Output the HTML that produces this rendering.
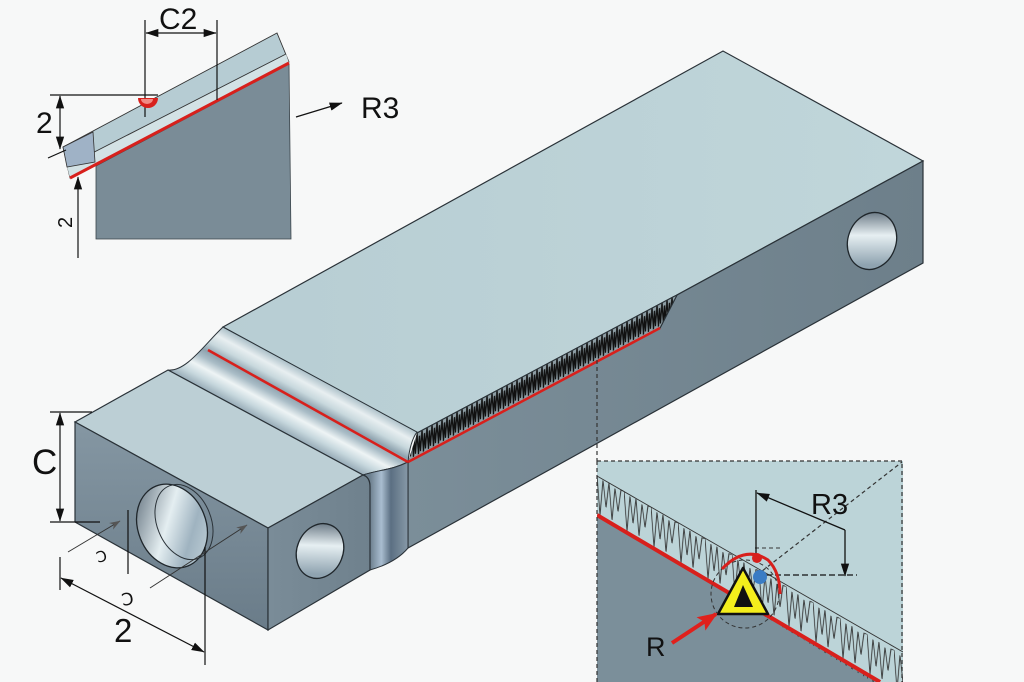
<!DOCTYPE html>
<html><head><meta charset="utf-8">
<style>
html,body{margin:0;padding:0;background:#f7f8f8;}
svg{display:block}
text{font-family:"Liberation Sans",sans-serif;fill:#111;}
</style></head><body>
<svg width="1024" height="682" viewBox="0 0 1024 682" xmlns="http://www.w3.org/2000/svg">
<defs>
 <marker id="ah" viewBox="0 0 10 10" refX="9.5" refY="5" markerWidth="13" markerHeight="13" markerUnits="userSpaceOnUse" orient="auto-start-reverse"><path d="M0,1.8 L10,5 L0,8.2 Z" fill="#111"/></marker>
 <marker id="ahg" viewBox="0 0 10 10" refX="9.5" refY="5" markerWidth="11" markerHeight="11" markerUnits="userSpaceOnUse" orient="auto"><path d="M0,1.5 L10,5 L0,8.5 L3,5 Z" fill="#555"/></marker>
 <marker id="ahr" viewBox="0 0 10 10" refX="9" refY="5" markerWidth="20" markerHeight="20" markerUnits="userSpaceOnUse" orient="auto"><path d="M0,1 L10,5 L0,9 L2,5 Z" fill="#e0201c"/></marker>
 <linearGradient id="topG" x1="200" y1="0" x2="920" y2="0" gradientUnits="userSpaceOnUse">
  <stop offset="0" stop-color="#b7cdd3"/><stop offset="1" stop-color="#c0d6da"/>
 </linearGradient>
 <linearGradient id="frontG" x1="408" y1="0" x2="923" y2="0" gradientUnits="userSpaceOnUse">
  <stop offset="0" stop-color="#7b8e99"/><stop offset="1" stop-color="#6d7f8a"/>
 </linearGradient>
 <linearGradient id="leftG" x1="0" y1="420" x2="0" y2="630" gradientUnits="userSpaceOnUse">
  <stop offset="0" stop-color="#8597a3"/><stop offset="1" stop-color="#6a7c89"/>
 </linearGradient>
 <linearGradient id="lbFrontG" x1="268" y1="0" x2="370" y2="0" gradientUnits="userSpaceOnUse">
  <stop offset="0" stop-color="#7a8c98"/><stop offset="1" stop-color="#6f818d"/>
 </linearGradient>
 <linearGradient id="grooveG" x1="266" y1="423" x2="296" y2="367" gradientUnits="userSpaceOnUse">
  <stop offset="0" stop-color="#96aab6"/><stop offset="0.15" stop-color="#c6d7dd"/>
  <stop offset="0.3" stop-color="#eef4f5"/><stop offset="0.45" stop-color="#a9bcc6"/>
  <stop offset="0.56" stop-color="#8ea2ae"/><stop offset="0.7" stop-color="#c8d8dd"/>
  <stop offset="0.85" stop-color="#e8eff1"/><stop offset="1" stop-color="#aec2ca"/>
 </linearGradient>
 <linearGradient id="stripG" x1="370" y1="0" x2="408" y2="0" gradientUnits="userSpaceOnUse">
  <stop offset="0" stop-color="#6c7f8e"/><stop offset="0.3" stop-color="#a9bdd0"/>
  <stop offset="0.55" stop-color="#5b6f82"/><stop offset="1" stop-color="#8799a7"/>
 </linearGradient>
 <linearGradient id="holeG" x1="0" y1="0" x2="1" y2="1">
  <stop offset="0" stop-color="#4f5f6d"/><stop offset="0.45" stop-color="#e4eef1"/>
  <stop offset="0.7" stop-color="#9fb3c0"/><stop offset="1" stop-color="#c9d8de"/>
 </linearGradient>
 <linearGradient id="holeG2" x1="0" y1="0" x2="0.3" y2="1">
  <stop offset="0" stop-color="#4a5a68"/><stop offset="0.5" stop-color="#e6eff2"/>
  <stop offset="1" stop-color="#8fa3b0"/>
 </linearGradient>
 <pattern id="hair1" width="5" height="25" patternUnits="userSpaceOnUse" patternTransform="translate(417,433) skewY(-28)">
  <path d="M0,0 L1.5,22 L2.5,4 L3.5,20 L5,0" fill="none" stroke="#111" stroke-width="1.3"/>
 </pattern>
 <pattern id="hair2" width="27" height="40" patternUnits="userSpaceOnUse" patternTransform="translate(597,475) skewY(30.5)">
  <path d="M0,0 L3,38 L6,2 L9,27 L12,1 L15,36 L18,3 L21,24 L24,1 L27,0" fill="none" stroke="#333" stroke-width="0.9"/>
 </pattern>
 <clipPath id="insetClip"><rect x="597" y="461" width="306" height="221"/></clipPath>
</defs>

<rect width="1024" height="682" fill="#f7f8f8"/>

<path d="M223,327 L723,51 L923,161 L677,295 L673,297 L417,433 Z" fill="url(#topG)" stroke="#2a3238" stroke-width="1.2"/>
<path d="M408,462 L660,328 L677,295 L923,161 L923,263 L408,548 Z" fill="url(#frontG)" stroke="#2a3238" stroke-width="1.2"/>
<path d="M417,433 L673,297 L677,295 L660,328 L408,462 Z" fill="#8e9ea5"/>
<path d="M417,433 L673,297 L677,295 L660,328 L408,462 Z" fill="url(#hair1)"/>
<path d="M417,433 L673,297 L677,295 L660,328" fill="none" stroke="#2a3238" stroke-width="1"/>
<ellipse cx="872" cy="241" rx="24" ry="29" transform="rotate(20 872 241)" fill="url(#holeG2)" stroke="#1f262b" stroke-width="1.3"/>

<path d="M168,370 C186,372 204,345 223,327 L417,432 C411,440 409,452 408,462 C392,470 378,470 363,475 Z" fill="url(#grooveG)" stroke="#2a3238" stroke-width="1"/>
<path d="M363,475 Q370,477 370,487 L370,570 C384,566 398,560 408,548 L408,462 C392,470 378,470 363,475 Z" fill="url(#stripG)" stroke="#2a3238" stroke-width="1"/>

<path d="M75,422 L168,370 L363,475 L268,528 Z" fill="#bccfd5" stroke="#2a3238" stroke-width="1.2"/>
<path d="M75,422 L268,528 L268,630 L75,522 Z" fill="url(#leftG)" stroke="#2a3238" stroke-width="1.2"/>
<path d="M268,528 L363,475 Q370,477 370,487 L370,570 L268,630 Z" fill="url(#lbFrontG)" stroke="#2a3238" stroke-width="1.2"/>
<ellipse cx="172" cy="526" rx="34" ry="43" transform="rotate(-22 172 526)" fill="url(#holeG)" stroke="#1f262b" stroke-width="1.3"/>
<ellipse cx="184" cy="522" rx="27" ry="39" transform="rotate(-22 184 522)" fill="none" stroke="#2a3238" stroke-width="1"/>
<ellipse cx="320" cy="551" rx="23" ry="28" transform="rotate(22 320 551)" fill="url(#holeG2)" stroke="#1f262b" stroke-width="1.3"/>

<line x1="208" y1="350" x2="408" y2="462" stroke="#d8201c" stroke-width="2.6"/>
<line x1="408" y1="462" x2="660" y2="328" stroke="#d8201c" stroke-width="2.6"/>

<g stroke="#111" stroke-width="1.2" fill="none">
 <line x1="50" y1="412" x2="92" y2="412"/>
 <line x1="50" y1="522" x2="100" y2="522"/>
 <line x1="60" y1="413" x2="60" y2="521" marker-start="url(#ah)" marker-end="url(#ah)"/>
 <line x1="60" y1="557" x2="60" y2="590"/>
 <line x1="205" y1="547" x2="205" y2="665"/>
 <line x1="61" y1="578" x2="204" y2="652" marker-start="url(#ah)" marker-end="url(#ah)"/>
 <line x1="128" y1="510" x2="128" y2="574"/>
</g>
<line x1="68" y1="552" x2="120" y2="521" stroke="#333" stroke-width="1" marker-end="url(#ahg)"/>
<line x1="150" y1="588" x2="247" y2="525" stroke="#333" stroke-width="1" marker-end="url(#ahg)"/>
<text x="32" y="474" font-size="35">C</text>
<text x="114" y="642" font-size="33">2</text>
<text x="96" y="561" font-size="15" transform="rotate(-15 104 555)">Ↄ</text>
<text x="121" y="604" font-size="17" transform="rotate(-10 133 595)">Ↄ</text>

<path d="M96,166 L289,64 L291,239 L96,239 Z" fill="#7a8c97" stroke="#3a444a" stroke-width="0.8"/>
<path d="M63,147 L277,33 L289,62 L70,178 Z" fill="#b6ccd3" stroke="#333" stroke-width="0.9"/>
<path d="M67,166 L286,54 L289,63 L70,178 Z" fill="#d3e2e5"/>
<line x1="67" y1="166" x2="286" y2="54" stroke="#333" stroke-width="0.9"/>
<path d="M63,147 L93,132 L95,162 L67,167 Z" fill="#9fb2c6" stroke="#333" stroke-width="0.8"/>
<line x1="70" y1="178" x2="289" y2="63" stroke="#d8201c" stroke-width="3"/>
<g stroke="#111" stroke-width="1.2" fill="none">
 <line x1="145" y1="20" x2="145" y2="117"/>
 <line x1="217" y1="20" x2="217" y2="100"/>
 <line x1="146" y1="33" x2="216" y2="33" marker-start="url(#ah)" marker-end="url(#ah)"/>
 <line x1="50" y1="95" x2="158" y2="95"/>
 <line x1="60" y1="96" x2="60" y2="149" marker-start="url(#ah)" marker-end="url(#ah)"/>
 <line x1="48" y1="158" x2="66" y2="150"/>
 <line x1="78" y1="258" x2="78" y2="177" marker-end="url(#ah)"/>
 <line x1="296" y1="117" x2="342" y2="103" marker-end="url(#ah)"/>
</g>
<path d="M138,98 A10,10 0 0 0 158,98 Z" fill="#d8201c"/>
<path d="M141,99 A6,5 0 0 0 153,99 Z" fill="#f08a84"/>
<text x="159" y="29" font-size="30">C2</text>
<text x="36" y="133" font-size="30">2</text>
<text x="361" y="118" font-size="30">R3</text>
<text x="64" y="236" font-size="20" transform="rotate(-90 64 228)">2</text>

<line x1="597" y1="360" x2="597" y2="461" stroke="#333" stroke-width="1.2" stroke-dasharray="4,3"/>
<g clip-path="url(#insetClip)">
 <rect x="597" y="461" width="306" height="221" fill="#bcd4d8"/>
 <path d="M597,515 L880,682 L597,682 Z" fill="#7b8f9a"/>
 <path d="M597,475 L903,655 L903,700 L597,515 Z" fill="url(#hair2)"/>
 <line x1="597" y1="476" x2="903" y2="652" stroke="#333" stroke-width="0.9"/>
 <line x1="597" y1="515" x2="880" y2="682" stroke="#d8201c" stroke-width="4"/>
 <line x1="757" y1="575" x2="902" y2="462" stroke="#333" stroke-width="1.2" stroke-dasharray="4,3"/>
 <line x1="757" y1="575" x2="857" y2="575" stroke="#111" stroke-width="1.2" stroke-dasharray="6,3"/>
 <line x1="755" y1="548" x2="782" y2="548" stroke="#333" stroke-width="1" stroke-dasharray="4,3"/>
 <circle cx="745" cy="594" r="34" fill="none" stroke="#333" stroke-width="1" stroke-dasharray="4,3"/>
</g>
<path d="M597,461 L902,461 L902,682 M597,461 L597,682" fill="none" stroke="#333" stroke-width="1.2" stroke-dasharray="4,3"/>
<g stroke="#111" stroke-width="1.3" fill="none">
 <line x1="756" y1="490" x2="756" y2="560"/>
 <line x1="845" y1="530" x2="757" y2="493" marker-end="url(#ah)"/>
 <line x1="845" y1="530" x2="845" y2="576" marker-end="url(#ah)"/>
</g>
<text x="811" y="514" font-size="29">R3</text>
<path d="M722,569 Q745,545 768,560 Q780,572 780,594" fill="none" stroke="#d8201c" stroke-width="3"/>
<circle cx="757" cy="558" r="5" fill="#d8201c"/>
<circle cx="760" cy="577" r="7" fill="#3a7cc4"/>
<path d="M743,568 L768,614 L718,614 Z" fill="#f4ee1c" stroke="#111" stroke-width="2.5" stroke-linejoin="round"/>
<path d="M743,585 L753,607 L734,607 Z" fill="#111"/>
<line x1="672" y1="643" x2="716" y2="614" stroke="#e0201c" stroke-width="4" marker-end="url(#ahr)"/>
<text x="646" y="656" font-size="27">R</text>
</svg>
</body></html>
